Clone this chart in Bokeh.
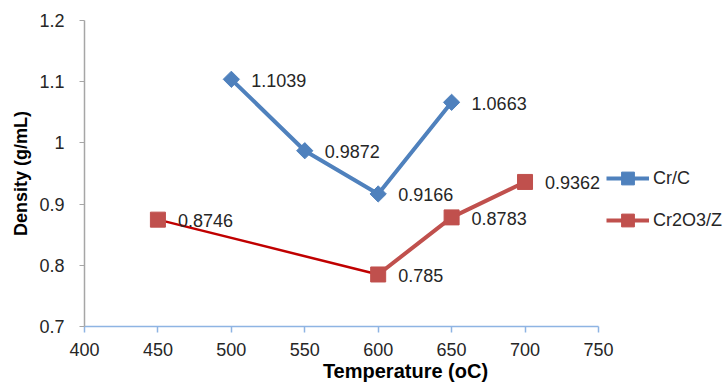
import numpy as np
from bokeh.plotting import figure
from bokeh.models import Range1d, FixedTicker, Legend, LegendItem, LabelSet, ColumnDataSource
from bokeh.core.properties import value
from bokeh.embed import file_html
from bokeh.resources import INLINE

# ---- data ----
crc_temp = [500, 550, 600, 650]
crc_density = [1.1039, 0.9872, 0.9166, 1.0663]
crc_labels = ["1.1039", "0.9872", "0.9166", "1.0663"]

cr2o3_temp = [450, 600, 650, 700]
cr2o3_density = [0.8746, 0.785, 0.8783, 0.9362]
cr2o3_labels = ["0.8746", "0.785", "0.8783", "0.9362"]

x_ticks = [400, 450, 500, 550, 600, 650, 700, 750]
y_ticks = [0.7, 0.8, 0.9, 1.0, 1.1, 1.2]
y_tick_labels = ["0.7", "0.8", "0.9", "1", "1.1", "1.2"]

series_names = ["Cr/C", "Cr2O3/Z"]
x_title = "Temperature (oC)"
y_title = "Density (g/mL)"

BLUE = "#4F81BD"
RED = "#C0504D"
DARKRED = "#C00000"
FONT = "Liberation Sans"
TXT = "#262626"

# frame spans the legend area too; the x axis itself stops at 750
p = figure(width=726, height=389, output_backend="svg", toolbar_location=None,
           x_range=Range1d(400, 837.2), y_range=Range1d(0.7, 1.2),
           min_border_left=84, min_border_right=0, min_border_top=20,
           min_border_bottom=63)
p.outline_line_color = None
p.grid.visible = False
p.background_fill_color = "white"
p.border_fill_color = "white"

# axes
p.xaxis.ticker = FixedTicker(ticks=x_ticks)
p.xaxis.bounds = (x_ticks[0], x_ticks[-1])
p.yaxis.ticker = FixedTicker(ticks=y_ticks)
p.yaxis.major_label_overrides = {t: l for t, l in zip(y_ticks, y_tick_labels)}
p.xaxis.minor_tick_line_color = None
p.yaxis.minor_tick_line_color = None
p.xaxis.axis_line_color = "#8EB4E3"
p.xaxis.major_tick_line_color = "#8EB4E3"
p.xaxis.axis_line_width = 1.5
p.xaxis.major_tick_line_width = 1.5
p.xaxis.major_tick_out = 6
p.xaxis.major_tick_in = 0
p.xaxis.major_label_standoff = 10
p.yaxis.axis_line_color = "#A6A6A6"
p.yaxis.major_tick_line_color = "#A6A6A6"
p.yaxis.axis_line_width = 1.5
p.yaxis.major_tick_out = 5
p.yaxis.major_tick_in = 0
p.yaxis.major_label_standoff = 15
for ax in (p.xaxis, p.yaxis):
    ax.major_label_text_font = FONT
    ax.major_label_text_font_size = "18px"
    ax.major_label_text_color = TXT
p.yaxis.axis_label = y_title
p.yaxis.axis_label_text_font = FONT
p.yaxis.axis_label_text_font_style = "bold"
p.yaxis.axis_label_text_font_size = "18px"
p.yaxis.axis_label_text_color = "black"
p.yaxis.axis_label_standoff = 5
p.xaxis.axis_label = x_title
p.xaxis.axis_label_text_font = FONT
p.xaxis.axis_label_text_font_style = "bold"
p.xaxis.axis_label_text_font_size = "20px"
p.xaxis.axis_label_text_color = "black"
p.xaxis.axis_label_standoff = 1

# series
blue_line = p.line(crc_temp, crc_density, line_color=BLUE, line_width=4)
blue_pts = p.scatter(crc_temp, crc_density, marker="square", angle=np.pi / 4,
                     size=11.5, fill_color=BLUE, line_color=BLUE)

p.line(cr2o3_temp[:2], cr2o3_density[:2], line_color=DARKRED, line_width=2.5)
red_line = p.line(cr2o3_temp[1:], cr2o3_density[1:], line_color=RED, line_width=4)
red_pts = p.scatter(cr2o3_temp, cr2o3_density, marker="square", size=15,
                    fill_color=RED, line_color=RED)

# data labels
src_b = ColumnDataSource(dict(x=crc_temp, y=crc_density, t=crc_labels))
src_r = ColumnDataSource(dict(x=cr2o3_temp, y=cr2o3_density, t=cr2o3_labels))
for src in (src_b, src_r):
    p.add_layout(LabelSet(x="x", y="y", text="t", source=src, x_offset=20, y_offset=-1,
                          text_align="left", text_baseline="middle",
                          text_font=value(FONT), text_font_size="18px",
                          text_color=TXT))

legend = Legend(items=[LegendItem(label=series_names[0], renderers=[blue_line, blue_pts]),
                       LegendItem(label=series_names[1], renderers=[red_line, red_pts])],
                location=(518, 86), orientation="vertical",
                glyph_width=43, glyph_height=32, label_height=32, spacing=10,
                padding=4, margin=0, label_standoff=4,
                label_text_font=FONT, label_text_font_size="18px",
                label_text_color=TXT, border_line_alpha=0,
                background_fill_alpha=0)
p.add_layout(legend, "center")

open("out.html", "w").write(file_html(p, INLINE))
